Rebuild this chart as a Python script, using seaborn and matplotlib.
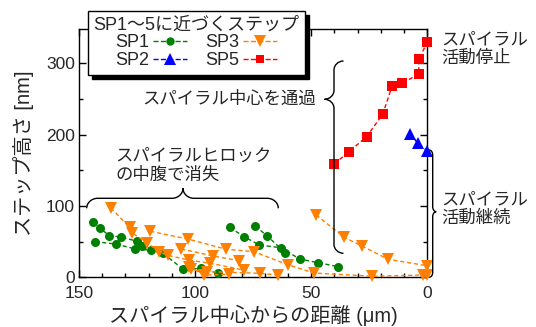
import numpy as np
import pandas as pd
import matplotlib
matplotlib.use('Agg')
import matplotlib.pyplot as plt
import seaborn as sns
from matplotlib.lines import Line2D
from matplotlib.path import Path
from matplotlib.patches import PathPatch
from matplotlib.ticker import MultipleLocator

# distance from spiral centre (um) / step height (nm), one list per traced step
sp1_x = [[144, 141, 137, 132, 125, 123],
         [143, 134, 126, 119, 114, 105, 97.5, 90],
         [85, 79, 72.3, 63.1, 55, 47.1, 38.3],
         [74.1, 69.1, 61.2]]
sp1_y = [[78, 69, 58.5, 56.5, 50.5, 43.5],
         [50, 46.5, 40, 38, 34, 11, 12.5, 5.5],
         [70, 57, 45.3, 41.5, 25.7, 20.5, 14.9],
         [71.9, 58.4, 34.5]]

sp3_x = [[136.3, 128.2, 127, 120.8, 115.5, 111.8, 102.5, 93.4, 79.1],
         [119.3, 103.2, 86.6, 74.8, 59.8, 48.8, 23.7, 2, 0.3],
         [106, 92.3, 81.3],
         [102.8, 96, 85.6],
         [101.7, 94.9, 72, 64.5],
         [47.9, 35.8, 28, 16.8, 0.3]]
sp3_y = [[97.5, 70, 62, 48.5, 36, 30.8, 24, 19.6, 10.2],
         [64.5, 53.7, 39.3, 36, 17.3, 6, 1.5, 3.2, 3.2],
         [39.7, 29.9, 23.3],
         [14.9, 3.2, 4.2],
         [11.6, 7.9, 5.6, 3.2],
         [87.4, 56.1, 43.5, 25.2, 16.3]]

sp2_x = [[7.4, 4.1, 0]]
sp2_y = [[201, 188, 177]]

sp5_x = [[40.1, 33.8, 26.1, 19.2, 15.1, 10.8, 3.7, 3.6, 0]]
sp5_y = [[159, 175.7, 197.2, 228.6, 268.7, 272, 284.7, 306, 329.5]]

series = [('SP1', sp1_x, sp1_y, 'green', 'o', 6.5),
          ('SP2', sp2_x, sp2_y, 'blue', '^', 8.5),
          ('SP3', sp3_x, sp3_y, '#ff8000', 'v', 8.5),
          ('SP5', sp5_x, sp5_y, 'red', 's', 6.5)]

sns.set_style('ticks')
plt.rcParams['font.family'] = ['Liberation Sans', 'Noto Sans CJK JP']

W, H = 536, 327
fig = plt.figure(figsize=(W / 100, H / 100), dpi=100)
ax = fig.add_axes([79 / W, 1 - 277.3 / H, 348.3 / W, 248.3 / H])

handles = {}
for name, xs, ys, col, mk, ms in series:
    for x, y in zip(xs, ys):
        df = pd.DataFrame({'dist': x, 'height': y})
        sns.lineplot(data=df, x='dist', y='height', sort=False, estimator=None,
                     color=col, marker=mk, markersize=ms, markeredgewidth=0,
                     linestyle='--', dashes=False, linewidth=1, clip_on=False, ax=ax)
    handles[name] = Line2D([], [], color=col, marker=mk, markersize=ms - 0.5,
                           markeredgewidth=0, linestyle='--', linewidth=1)
for ln in ax.lines:
    ln.set_dashes((3, 2))
    ln.set_zorder(3)

ax.set_xlim(150, 0)
ax.set_ylim(0, 348)
ax.set_xticks([150, 100, 50, 0])
ax.set_yticks([0, 100, 200, 300])
ax.xaxis.set_minor_locator(MultipleLocator(10))
ax.yaxis.set_minor_locator(MultipleLocator(50))
ax.tick_params(which='both', direction='in', top=True, right=True, width=1,
               color='black', labelsize=12.5)
ax.tick_params(which='major', length=5)
ax.tick_params(which='minor', length=3)
ax.tick_params(axis='x', pad=6)
ax.tick_params(axis='y', pad=3)
for s in ax.spines.values():
    s.set_linewidth(1)
    s.set_color('black')

ax.set_xlabel('スパイラル中心からの距離 (μm)', fontsize=14.5, va='center')
ax.set_ylabel('ステップ高さ [nm]', fontsize=14.5, va='center')
ax.xaxis.set_label_coords(0.5, (277.3 - 315) / 248.3)
ax.yaxis.set_label_coords((24 - 79) / 348.3, 0.5)

leg = ax.legend([handles['SP1'], handles['SP2'], handles['SP3'], handles['SP5']],
                ['SP1', 'SP2', 'SP3', 'SP5'], ncol=2, markerfirst=False,
                title='SP1～5に近づくステップ', title_fontsize=13, fontsize=13,
                loc='upper left', bbox_to_anchor=(88 / W, 1 - 11 / H),
                bbox_transform=fig.transFigure, borderaxespad=0,
                frameon=True, fancybox=False, framealpha=1, edgecolor='black',
                shadow={'color': 'black', 'alpha': 1, 'ox': 3, 'oy': -3},
                handlelength=1.9, handletextpad=0.2, columnspacing=1.0,
                labelspacing=0.05, borderpad=0.3)
leg.get_frame().set_linewidth(1)
leg.set_zorder(10)


def brace(p0, p1, n, a, c, r):
    # curly brace drawn in pixel space: body from p0 to p1, cusp towards n
    p0 = np.array(p0, float)
    p1 = np.array(p1, float)
    n = np.array(n, float)
    L = np.linalg.norm(p1 - p0)
    d = (p1 - p0) / L
    k = 0.55
    tu = [(0, -a), (0, -a + k * a), (r - k * r, 0), (r, 0),
          (c - r, 0),
          (c - r + k * r, 0), (c, a - k * a), (c, a),
          (c, a - k * a), (c + r - k * r, 0), (c + r, 0),
          (L - r, 0),
          (L - r + k * r, 0), (L, -a + k * a), (L, -a)]
    codes = [Path.MOVETO] + [Path.CURVE4] * 3 + [Path.LINETO] + [Path.CURVE4] * 6 + \
            [Path.LINETO] + [Path.CURVE4] * 3
    verts = []
    for t, u in tu:
        p = p0 + t * d + u * n
        verts.append((p[0] / W, 1 - p[1] / H))
    fig.add_artist(PathPatch(Path(verts, codes), fill=False, lw=1.0,
                             edgecolor='black', transform=fig.transFigure))


brace((334, 61), (334, 253.3), (-1, 0), 9.5, 38.3, 9)
brace((86.7, 198.3), (278.3, 198.3), (0, -1), 10, 96.3, 11)
brace((432.7, 150), (432.7, 277.3), (1, 0), 3.5, 61.7, 5)


def label(px, py, s, ha='left'):
    fig.text(px / W, 1 - py / H, s, ha=ha, va='center', fontsize=12.5,
             linespacing=1.05, family=['Noto Sans CJK JP'])


label(229, 99.3, 'スパイラル中心を通過', ha='center')
label(115, 165.5, 'スパイラルヒロック\nの中腹で消失')
label(441.7, 49, 'スパイラル\n活動停止')
label(441.7, 209, 'スパイラル\n活動継続')

fig.savefig('out.png', dpi=100)
